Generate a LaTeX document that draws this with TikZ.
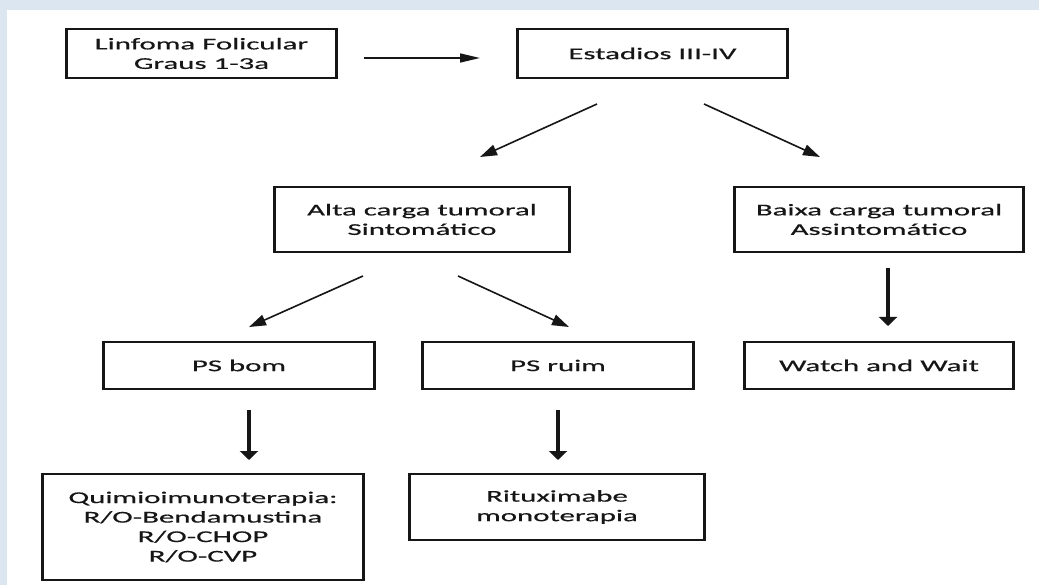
\documentclass[tikz,border=0pt]{standalone}
\usepackage{fontspec}
\setmainfont{Carlito}[FakeStretch=1.87,FakeBold=0.5]
\usetikzlibrary{arrows.meta}
\definecolor{bgblue}{HTML}{DCE6F1}
\definecolor{ink}{HTML}{161616}
\begin{document}
\begin{tikzpicture}[x=1pt,y=-1pt,
  box/.style={draw=ink, line width=1.4pt, inner sep=0pt, align=center, text=ink,
    font=\fontsize{16.5}{19.5}\selectfont},
  vside/.style={draw=ink, line width=3pt, shorten <=-0.7pt, shorten >=-0.7pt},
  darr/.style={draw=ink, line width=1.6pt, -{Triangle[length=17pt,width=11pt]}},
  harr/.style={draw=ink, line width=1.6pt, -{Triangle[length=20pt,width=9pt]}},
  varr/.style={draw=ink, line width=3.4pt, -{Triangle[length=9pt,width=18pt]}}]
  % background frame
  \fill[bgblue] (0,0) rectangle (1039,585);
  \fill[white] (7,10) rectangle (1039,585);
  \useasboundingbox (0,0) rectangle (1039,585);

  % boxes
  \node[box, minimum width=269pt, minimum height=49pt] (lf) at (201.5,53.5) {Linfoma Folicular\\Graus 1-3a};
  \node[box, minimum width=269pt, minimum height=49pt] (est) at (652.5,53.5) {Estadios III-IV};
  \node[box, minimum width=294pt, minimum height=65pt] (alta) at (422,219.5) {Alta carga tumoral\\Sintomático};
  \node[box, minimum width=288pt, minimum height=65pt] (baixa) at (879,219.5) {Baixa carga tumoral\\Assintomático};
  \node[box, minimum width=270pt, minimum height=47pt] (bom) at (239,365.5) {PS bom};
  \node[box, minimum width=270pt, minimum height=47pt] (ruim) at (558,365.5) {PS ruim};
  \node[box, minimum width=268pt, minimum height=47pt] (ww) at (879,365.5) {Watch and Wait};
  \node[box, minimum width=320pt, minimum height=106pt] (quimio) at (203,527) {Quimioimunoterapia:\\R/O-Bendamustina\\R/O-CHOP\\R/O-CVP};
  \node[box, minimum width=294pt, minimum height=66pt] (ritux) at (557,507) {Rituximabe\\monoterapia};

  % heavier vertical sides
  \foreach \n in {lf,est,alta,baixa,bom,ruim,ww,quimio,ritux}{
    \draw[vside] (\n.north west) -- (\n.south west);
    \draw[vside] (\n.north east) -- (\n.south east);
  }

  % arrow end points
  \coordinate (a1s) at (364,58);  \coordinate (a1e) at (480,58);
  \coordinate (a2s) at (597,104); \coordinate (a2e) at (480,157);
  \coordinate (a3s) at (704,104); \coordinate (a3e) at (820,157);
  \coordinate (a4s) at (363,276); \coordinate (a4e) at (249,327);
  \coordinate (a5s) at (458,276); \coordinate (a5e) at (569,327);
  \coordinate (a6s) at (888,268); \coordinate (a6e) at (888,326);
  \coordinate (a7s) at (249,410); \coordinate (a7e) at (249,460);
  \coordinate (a8s) at (558,410); \coordinate (a8e) at (558,460);

  % connectors
  \draw[harr] (a1s) -- (a1e);
  \draw[darr] (a2s) -- (a2e);
  \draw[darr] (a3s) -- (a3e);
  \draw[darr] (a4s) -- (a4e);
  \draw[darr] (a5s) -- (a5e);
  \draw[varr] (a6s) -- (a6e);
  \draw[varr] (a7s) -- (a7e);
  \draw[varr] (a8s) -- (a8e);
\end{tikzpicture}
\end{document}
